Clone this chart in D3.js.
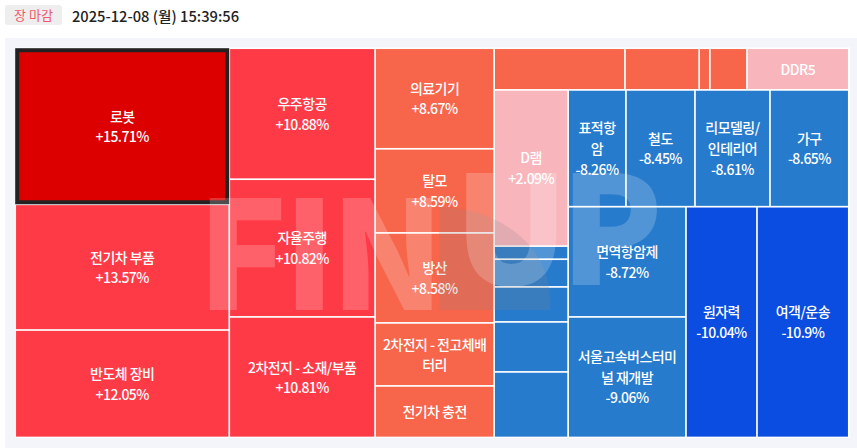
<!DOCTYPE html>
<html>
<head>
  <meta charset="utf-8">
  <title>Theme heatmap</title>
  <script src="https://d3js.org/d3.v7.min.js"></script>
  <style>
    html, body { margin: 0; padding: 0; background: #fff; overflow: hidden; }
    svg { display: block; }
    text { font-family: "Noto Sans CJK KR", "Noto Sans", sans-serif; }
    .cell-label { fill: #fff; font-size: 14px; font-weight: 500; letter-spacing: -0.55px; text-anchor: middle; }
  </style>
</head>
<body>
  <script>
    // "\n" marks where the name wraps in its box. Empty names are boxes too small to be labelled.
    const names = [
      "로봇", "전기차 부품", "반도체 장비",
      "우주항공", "자율주행", "2차전지 - 소재/부품",
      "의료기기", "탈모", "방산", "2차전지 - 전고체배\n터리", "전기차 충전",
      "", "", "", "", "DDR5",
      "D램", "", "", "", "", "",
      "표적항\n암", "철도", "리모델링/\n인테리어", "가구",
      "면역항암제", "서울고속버스터미\n널 재개발",
      "원자력", "여객/운송"
    ];
    const changes = [
      15.71, 13.57, 12.05,
      10.88, 10.82, 10.81,
      8.67, 8.59, 8.58, 8.5, 8.45,
      8.4, 8.35, 8.3, 8.25, 2.5,
      2.09, -5.5, -6, -6.5, -7, -7.5,
      -8.26, -8.45, -8.61, -8.65,
      -8.72, -9.06,
      -10.04, -10.9
    ];
    // box sizes
    const weights = [
      33405, 26900, 23005,
      19100, 20077, 17583,
      11971, 10008, 10710, 7497, 6140,
      5454, 3094, 446, 1547, 4245,
      11559, 969, 2050, 2590, 3700, 4854,
      6751, 8059, 8760, 9204,
      12982, 14207,
      16387, 21187
    ];
    // how the boxes nest, as indexes into the arrays above. Direction flips per level.
    const nesting = [
      [0, 1, 2],
      [3, 4, 5],
      [6, 7, 8, 9, 10],
      [
        [11, 12, 13, 14, 15],
        [
          [16, 17, 18, 19, 20, 21],
          [
            [22, 23, 24, 25],
            [[26, 27], 28, 29]
          ]
        ]
      ]
    ];
    const colorBreaks = [-10, -5, 0, 5, 10, 15];
    const colorRange = ["#0b4de0", "#277bcc", "#7fb0e0", "#f8b5bc", "#f7654b", "#ff3a47", "#dc0000"];
    const selectedName = "로봇";

    const width = 857;
    const height = 448;
    const chartX = 15.2;
    const chartY = 48.2;
    const chartW = 833.6;
    const chartH = 389.3;
    const gap = 0.85;
    const lineHeight = 20.6;

    const color = d3.scaleThreshold().domain(colorBreaks).range(colorRange);

    function toNode(item) {
      if (Array.isArray(item)) return { children: item.map(toNode) };
      return { name: names[item], change: changes[item], value: weights[item] };
    }

    const root = d3.hierarchy(toNode(nesting)).sum(d => d.value || 0);

    d3.treemap()
      .size([chartW, chartH])
      .tile((node, x0, y0, x1, y1) => {
        (node.depth % 2 ? d3.treemapSlice : d3.treemapDice)(node, x0, y0, x1, y1);
      })(root);

    const svg = d3.select("body").append("svg")
      .attr("width", width)
      .attr("height", height);

    // header
    svg.append("rect")
      .attr("x", 5).attr("y", 5).attr("width", 57).attr("height", 20).attr("rx", 3)
      .attr("fill", "#eeeeee");
    svg.append("text")
      .attr("x", 33.5).attr("y", 20)
      .attr("text-anchor", "middle")
      .attr("font-size", 13)
      .attr("fill", "#f0586c")
      .text("장 마감");
    svg.append("text")
      .attr("x", 72).attr("y", 22)
      .attr("font-size", 14.7)
      .attr("font-weight", 500)
      .attr("fill", "#222")
      .text("2025-12-08 (월) 15:39:56");

    // panel
    svg.append("rect")
      .attr("x", 5).attr("y", 38).attr("width", 852).attr("height", 410)
      .attr("fill", "#f3f5fa");
    svg.append("rect")
      .attr("x", chartX + 0.3).attr("y", chartY - 0.7)
      .attr("width", chartW + 0.9).attr("height", chartH + 1.2)
      .attr("fill", "#fff");

    const chart = svg.append("g").attr("transform", `translate(${chartX},${chartY})`);

    const cell = chart.selectAll("g.cell")
      .data(root.leaves())
      .join("g")
      .attr("class", "cell")
      .attr("transform", d => `translate(${d.x0},${d.y0})`);

    cell.append("rect")
      .attr("x", d => d.data.name === selectedName ? 2 : gap)
      .attr("y", d => d.data.name === selectedName ? 2 : gap)
      .attr("width", d => d.x1 - d.x0 - (d.data.name === selectedName ? 4 : 2 * gap))
      .attr("height", d => d.y1 - d.y0 - (d.data.name === selectedName ? 4 : 2 * gap))
      .attr("fill", d => color(d.data.change))
      .attr("stroke", d => d.data.name === selectedName ? "#222" : "none")
      .attr("stroke-width", 4);

    const label = cell.filter(d => d.data.name).append("text")
      .attr("class", "cell-label");

    label.each(function (d) {
      const lines = d.data.name.split("\n");
      const boxW = d.x1 - d.x0;
      const boxH = d.y1 - d.y0;
      // the percent only shows when the box has room for it
      if ((lines.length + 1) * lineHeight + 12 < boxH) {
        lines.push((d.data.change > 0 ? "+" : "") + d.data.change + "%");
      }
      const top = boxH / 2 - (lines.length - 1) * lineHeight / 2 + 0.8;
      d3.select(this).selectAll("tspan")
        .data(lines)
        .join("tspan")
        .attr("x", boxW / 2)
        .attr("y", (t, i) => top + i * lineHeight)
        .attr("dy", "0.35em")
        .text(t => t);
    });

    // watermark sits above the cells
    const mark = svg.append("g").attr("pointer-events", "none");
    mark.append("path")
      .attr("d", "M439,207 C490,207 555,240 550,310 L439,310 Z")
      .attr("fill", "#888")
      .attr("opacity", 0.2);
    mark.append("text")
      .attr("y", 310)
      .attr("x", "197 283 330")
      .attr("font-size", 150)
      .attr("font-weight", 900)
      .attr("fill", "#fff")
      .attr("fill-opacity", 0.2)
      .text("FIN");
    mark.append("text")
      .attr("y", 285)
      .attr("x", "454 560")
      .attr("font-size", 150)
      .attr("font-weight", 900)
      .attr("fill", "#fff")
      .attr("fill-opacity", 0.2)
      .text("UP");
  </script>
</body>
</html>
